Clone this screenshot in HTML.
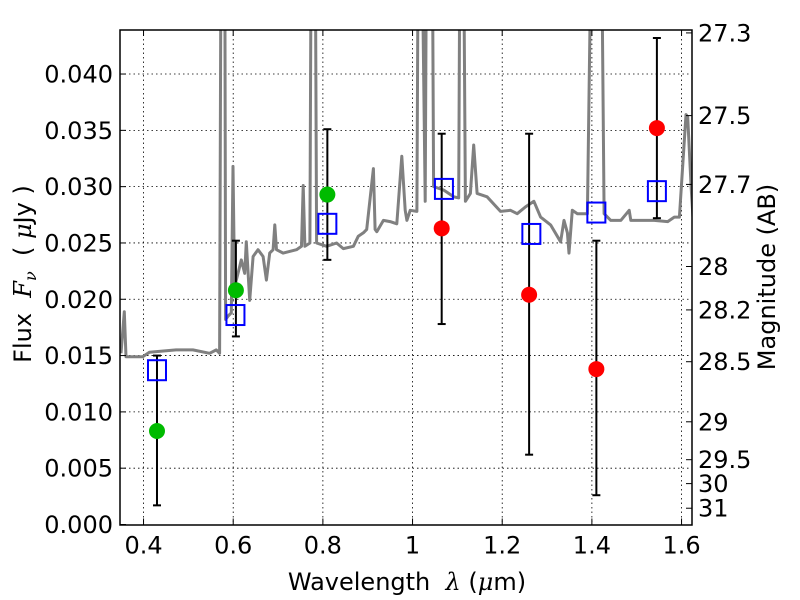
<!DOCTYPE html>
<html><head><meta charset="utf-8"><style>
body{margin:0;background:#fff;}
svg{display:block;font-family:"DejaVu Sans","Liberation Sans",sans-serif;}
</style></head><body>
<svg id="chart" width="800" height="600" viewBox="0 0 800 600">
<defs><clipPath id="clip"><rect x="120" y="30" width="572" height="495"/></clipPath></defs>
<g id="grid"></g>
<g id="spec" clip-path="url(#clip)"></g>
<g id="marks"></g>
<rect x="120" y="30" width="572" height="495" fill="none" stroke="#000" stroke-width="1.5"/>
<g id="axes"></g>
<text x="407" y="590" font-size="24" text-anchor="middle" style="white-space:pre">Wavelength  <tspan font-family="DejaVu Serif,serif" font-style="italic">λ</tspan> (<tspan font-family="DejaVu Serif,serif" font-style="italic">μ</tspan>m)</text>
<text transform="translate(31,274) rotate(-90)" font-size="24" text-anchor="middle" style="white-space:pre">Flux  <tspan font-family="DejaVu Serif,serif" font-style="italic">F<tspan font-size="16" dy="5">ν</tspan></tspan><tspan dy="-5">  ( </tspan><tspan font-family="DejaVu Serif,serif" font-style="italic">μ</tspan>Jy )</text>
<text transform="translate(775,277) rotate(-90)" font-size="24" text-anchor="middle">Magnitude (AB)</text>
</svg>
<script>
const specWl=[0.3497,0.3572,0.3609,0.3982,0.4131,0.4727,0.5100,0.5473,0.5622,0.5697,0.5734,0.5809,0.5831,0.5883,0.5958,0.5995,0.6032,0.6107,0.6181,0.6256,0.6293,0.6368,0.6443,0.6554,0.6666,0.6741,0.6815,0.6890,0.6927,0.6965,0.7114,0.7412,0.7524,0.7561,0.7598,0.7710,0.7747,0.7822,0.7859,0.8083,0.8307,0.8456,0.8680,0.8791,0.8903,0.8978,0.9127,0.9164,0.9202,0.9351,0.9500,0.9649,0.9761,0.9836,0.9873,0.9948,1.0097,1.0134,1.0186,1.0283,1.0321,1.0432,1.0470,1.0693,1.0917,1.1029,1.1066,1.1126,1.1178,1.1290,1.1365,1.1439,1.1663,1.1961,1.2185,1.2334,1.2520,1.2707,1.2856,1.3080,1.3303,1.3378,1.3453,1.3490,1.3564,1.3676,1.3900,1.4012,1.4198,1.4273,1.4422,1.4646,1.4832,1.4869,1.5093,1.5391,1.5690,1.5839,1.5951,1.6100,1.6137,1.6212,1.6264];
const specFlux=[0.0152,0.0189,0.0149,0.0149,0.0153,0.0155,0.0155,0.0152,0.0155,0.0152,0.06,0.06,0.0182,0.0185,0.0188,0.0318,0.0211,0.0223,0.0235,0.0223,0.0251,0.0199,0.0238,0.0244,0.0238,0.0217,0.0241,0.0244,0.0266,0.0244,0.0241,0.0244,0.0247,0.0301,0.0247,0.0250,0.06,0.06,0.0250,0.0247,0.0250,0.0245,0.0247,0.0256,0.0259,0.0262,0.0316,0.0262,0.0260,0.0270,0.0269,0.0267,0.0327,0.0279,0.0270,0.0279,0.0278,0.06,0.06,0.0287,0.06,0.06,0.0300,0.0297,0.0291,0.0290,0.06,0.06,0.0287,0.0294,0.0337,0.0294,0.0291,0.0278,0.0279,0.0276,0.0282,0.0287,0.0273,0.0266,0.0251,0.0270,0.0259,0.0241,0.0279,0.0276,0.0276,0.06,0.06,0.0276,0.0270,0.0270,0.0279,0.0270,0.0270,0.0270,0.0269,0.0273,0.0273,0.0364,0.0362,0.0300,0.0267];
const greenWl=[0.43,0.606,0.81];
const greenFlux=[0.0083,0.0208,0.0293];
const greenLo=[0.0017,0.0167,0.0235];
const greenHi=[0.0150,0.0252,0.0351];
const redWl=[1.065,1.26,1.41,1.545];
const redFlux=[0.0263,0.0204,0.0138,0.0352];
const redLo=[0.0178,0.0062,0.0026,0.0272];
const redHi=[0.0347,0.0347,0.0252,0.0432];
const modelWl=[0.43,0.605,0.81,1.07,1.265,1.41,1.545];
const modelFlux=[0.0137,0.0186,0.0267,0.0298,0.0258,0.0277,0.0296];
const xTicks=[0.4,0.6,0.8,1.0,1.2,1.4,1.6];
const xTickLabels=["0.4","0.6","0.8","1","1.2","1.4","1.6"];
const yTicks=[0,0.005,0.01,0.015,0.02,0.025,0.03,0.035,0.04];
const yTickLabels=["0.000","0.005","0.010","0.015","0.020","0.025","0.030","0.035","0.040"];
const magTicks=[27.3,27.5,27.7,28,28.2,28.5,29,29.5,30,31];
const magTickLabels=["27.3","27.5","27.7","28","28.2","28.5","29","29.5","30","31"];

const X0=120,X1=692,Y0=524.5,Y1=30,XMIN=0.3475,XMAX=1.6233,YMIN=0,YMAX=0.04391;
const sx=v=>X0+(v-XMIN)/(XMAX-XMIN)*(X1-X0);
const sy=v=>Y0-(v-YMIN)/(YMAX-YMIN)*(Y0-Y1);
const magToFlux=m=>Math.pow(10,(23.9-m)/2.5);
const NS="http://www.w3.org/2000/svg";
function mk(tag,attrs,parent){const e=document.createElementNS(NS,tag);for(const k in attrs)e.setAttribute(k,attrs[k]);parent.appendChild(e);return e;}
const grid=document.getElementById('grid'),axes=document.getElementById('axes'),spec=document.getElementById('spec'),marks=document.getElementById('marks');

xTicks.forEach((t,i)=>{const x=sx(t);
 const g=mk('line',{x1:x,x2:x,y1:Y1,y2:Y0,stroke:'#000','stroke-width':0.8,'stroke-dasharray':'1.5,3'},grid);
 
 
 mk('line',{x1:x,x2:x,y1:Y0,y2:Y0-6,stroke:'#000','stroke-width':1},axes);
 mk('line',{x1:x,x2:x,y1:Y1,y2:Y1+6,stroke:'#000','stroke-width':1},axes);
 const l=mk('text',{x:x,y:Y0+29,'font-size':24,'text-anchor':'middle'},axes);l.textContent=xTickLabels[i];
 
 
});
yTicks.forEach((t,i)=>{const y=sy(t);
 if(t>0){const g=mk('line',{x1:X0,x2:X1,y1:y,y2:y,stroke:'#000','stroke-width':0.8,'stroke-dasharray':'1.5,3'},grid);
 
 }
 mk('line',{x1:X0,x2:X0+6,y1:y,y2:y,stroke:'#000','stroke-width':1},axes);
 const l=mk('text',{x:X0-7,y:y+8.5,'font-size':24,'text-anchor':'end'},axes);l.textContent=yTickLabels[i];
 
 
});
magTicks.forEach((m,i)=>{const y=sy(magToFlux(m));
 mk('line',{x1:X1,x2:X1-6,y1:y,y2:y,stroke:'#000','stroke-width':1},axes);
 const l=mk('text',{x:X1+6,y:y+8.5,'font-size':24},axes);l.textContent=magTickLabels[i];
 
 
});
const pts=specWl.map((w,i)=>sx(w).toFixed(1)+','+sy(specFlux[i]).toFixed(1)).join(' ');
const pl=mk('polyline',{points:pts,fill:'none',stroke:'#808080','stroke-width':3,'stroke-linejoin':'round'},spec);



function errbar(w,lo,hi){const x=sx(w);
 mk('line',{x1:x,x2:x,y1:sy(lo),y2:sy(hi),stroke:'#000','stroke-width':2},marks);
 mk('line',{x1:x-4,x2:x+4,y1:sy(lo),y2:sy(lo),stroke:'#000','stroke-width':2},marks);
 mk('line',{x1:x-4,x2:x+4,y1:sy(hi),y2:sy(hi),stroke:'#000','stroke-width':2},marks);}
greenWl.forEach((w,i)=>errbar(w,greenLo[i],greenHi[i]));
redWl.forEach((w,i)=>errbar(w,redLo[i],redHi[i]));
modelWl.forEach((w,i)=>{const r=mk('rect',{x:sx(w)-9,y:sy(modelFlux[i])-10,width:18,height:20,fill:'none',stroke:'#0000ff','stroke-width':2},marks);
 
 });
greenWl.forEach((w,i)=>{const c=mk('circle',{cx:sx(w),cy:sy(greenFlux[i]),r:8,fill:'#00bb00'},marks);
 
 });
redWl.forEach((w,i)=>{const c=mk('circle',{cx:sx(w),cy:sy(redFlux[i]),r:8,fill:'#ff0000'},marks);
 
 });
</script>
</body></html>
